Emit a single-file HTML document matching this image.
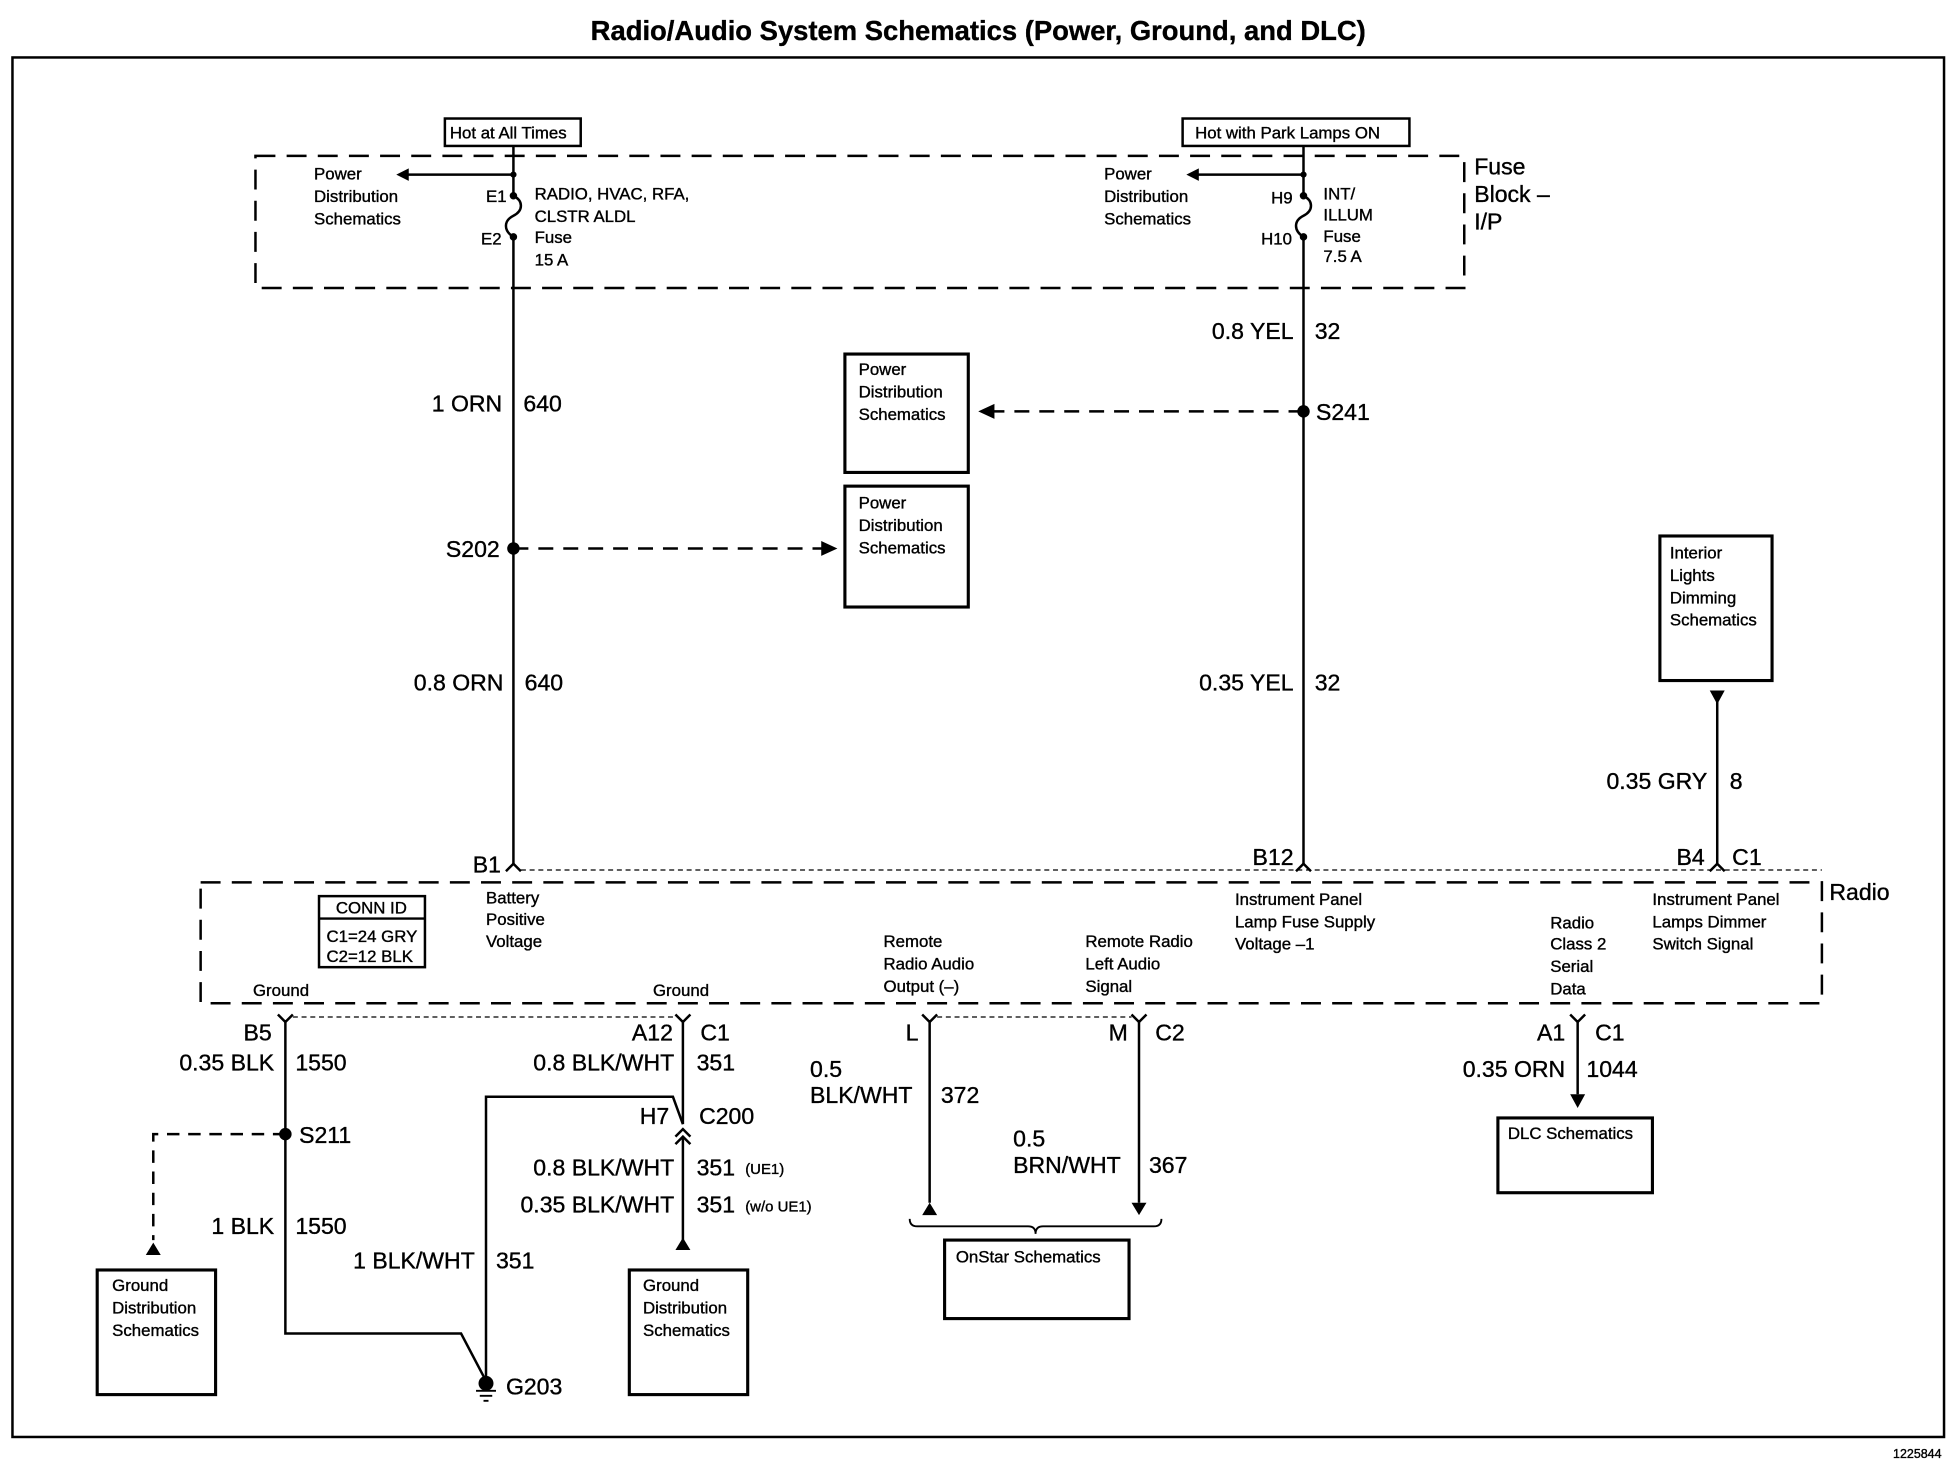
<!DOCTYPE html>
<html><head><meta charset="utf-8"><style>
html,body{margin:0;padding:0;background:#fff;}
svg{display:block;}
text{font-family:"Liberation Sans",Arial,sans-serif;fill:#000;stroke:#000;stroke-width:0.3px;}
.s{font-size:13.5px;}
.b{font-size:18.5px;}
</style></head><body>
<svg width="1954" height="1472" viewBox="0 0 1568 1181" xmlns="http://www.w3.org/2000/svg">
<g fill="none" stroke="#000" stroke-width="2">
<rect x="10" y="46" width="1550" height="1107"/>
<rect x="205" y="125" width="970" height="106" stroke-dasharray="16,9"/>
<rect x="161" y="708" width="1301" height="97" stroke-dasharray="16,9"/>
<rect x="357" y="95" width="109" height="22"/>
<rect x="949" y="95" width="182" height="22"/>
<rect x="678" y="284" width="99" height="95" stroke-width="2.5"/>
<rect x="678" y="390" width="99" height="97" stroke-width="2.5"/>
<rect x="1332" y="430" width="90" height="116" stroke-width="2.5"/>
<rect x="256" y="719" width="85" height="57"/>
<line x1="256" y1="737" x2="341" y2="737"/>
<rect x="78" y="1019" width="95" height="100" stroke-width="2.5"/>
<rect x="505" y="1019" width="95" height="100" stroke-width="2.5"/>
<rect x="758" y="995" width="148" height="63" stroke-width="2.5"/>
<rect x="1202" y="897" width="124" height="60" stroke-width="2.5"/>
<path d="M412 117 V157 M412 190 V693"/>
<path d="M412 157 c8 4 8 12 0 16 c-8 4 -8 12 0 17"/>
<path d="M412 140 H325"/>
<path d="M1046 117 V157 M1046 190 V693"/>
<path d="M1046 157 c8 4 8 12 0 16 c-8 4 -8 12 0 17"/>
<path d="M1046 140 H960"/>
<path d="M1046 330 H795" stroke-dasharray="12,8"/>
<path d="M412 440 H660" stroke-dasharray="12,8"/>
<path d="M1378 562 V693"/>
<path d="M406 699 L412 693 L418 699 M1040 699 L1046 693 L1052 699 M1372 699 L1378 693 L1384 699"/>
<path d="M418 698 H1462" stroke-width="1" stroke-dasharray="4,3"/>
<path d="M223 814 L229 820 L235 814 M542 814 L548 820 L554 814 M740 814 L746 820 L752 814 M908 814 L914 820 L920 814 M1260 814 L1266 820 L1272 814"/>
<path d="M235 816 H542 M752 816 H908" stroke-width="1" stroke-dasharray="4,3"/>
<path d="M229 820 V1070 H370 L390 1108"/>
<path d="M548 820 V902"/>
<path d="M390 1108 V880 H540 L548 902"/>
<path d="M542 912 L548 906 L554 912 M542 918 L548 912 L554 918"/>
<path d="M548 912 V995"/>
<path d="M229 910 H123 V995" stroke-dasharray="10,7"/>
<path d="M746 820 V965 M914 820 V965 M1266 820 V878"/>
<path d="M730 978 q0 6 6 6 H825 q6 0 6 6 q0 -6 6 -6 H926 q6 0 6 -6" stroke-width="1.5"/>
<path d="M382 1116 H398 M385 1120 H395 M388 1124 H392" stroke-width="1.5"/>
</g>
<g fill="#000">
<circle cx="412" cy="140" r="2.5"/><circle cx="412" cy="157" r="3"/><circle cx="412" cy="190" r="3"/>
<circle cx="1046" cy="140" r="2.5"/><circle cx="1046" cy="157" r="3"/><circle cx="1046" cy="190" r="3"/>
<circle cx="1046" cy="330" r="5"/><circle cx="412" cy="440" r="5"/>
<circle cx="229" cy="910" r="5"/><circle cx="390" cy="1110" r="6"/>
<path d="M318 140 l10 -5 v10z M952 140 l10 -5 v10z"/>
<path d="M785 330 l13 -6 v12z M672 440 l-13 -6 v12z"/>
<path d="M1378 565 l-6 -11 h12z"/>
<path d="M123 997 l-6 10 h12z M548 993 l-6 10 h12z M746 965 l-6 10 h12z M914 975 l-6 -10 h12z M1266 889 l-6 -11 h12z"/>
</g>
<text x="785" y="32" text-anchor="middle" style="font-size:22px;font-weight:bold">Radio/Audio System Schematics (Power, Ground, and DLC)</text>
<text x="1558" y="1170" text-anchor="end" style="font-size:10px">1225844</text>
<text x="361" y="111" class="s">Hot at All Times</text>
<text x="959" y="111" class="s">Hot with Park Lamps ON</text>
<text x="1183" y="140" class="b">Fuse</text><text x="1183" y="162" class="b">Block –</text><text x="1183" y="184" class="b">I/P</text>
<g class="s">
<text x="252" y="144">Power</text><text x="252" y="162">Distribution</text><text x="252" y="180">Schematics</text>
<text x="390" y="162">E1</text><text x="386" y="196">E2</text>
<text x="429" y="160">RADIO, HVAC, RFA,</text><text x="429" y="178">CLSTR ALDL</text><text x="429" y="195">Fuse</text><text x="429" y="213">15 A</text>
<text x="886" y="144">Power</text><text x="886" y="162">Distribution</text><text x="886" y="180">Schematics</text>
<text x="1020" y="163">H9</text><text x="1012" y="196">H10</text>
<text x="1062" y="160">INT/</text><text x="1062" y="177">ILLUM</text><text x="1062" y="194">Fuse</text><text x="1062" y="210">7.5 A</text>
<text x="689" y="301">Power</text><text x="689" y="319">Distribution</text><text x="689" y="337">Schematics</text>
<text x="689" y="408">Power</text><text x="689" y="426">Distribution</text><text x="689" y="444">Schematics</text>
<text x="1340" y="448">Interior</text><text x="1340" y="466">Lights</text><text x="1340" y="484">Dimming</text><text x="1340" y="502">Schematics</text>
<text x="298" y="733" text-anchor="middle">CONN ID</text><text x="262" y="756">C1=24 GRY</text><text x="262" y="772">C2=12 BLK</text>
<text x="390" y="725">Battery</text><text x="390" y="742">Positive</text><text x="390" y="760">Voltage</text>
<text x="991" y="726">Instrument Panel</text><text x="991" y="744">Lamp Fuse Supply</text><text x="991" y="762">Voltage –1</text>
<text x="1326" y="726">Instrument Panel</text><text x="1326" y="744">Lamps Dimmer</text><text x="1326" y="762">Switch Signal</text>
<text x="709" y="760">Remote</text><text x="709" y="778">Radio Audio</text><text x="709" y="796">Output (–)</text>
<text x="871" y="760">Remote Radio</text><text x="871" y="778">Left Audio</text><text x="871" y="796">Signal</text>
<text x="1244" y="745">Radio</text><text x="1244" y="762">Class 2</text><text x="1244" y="780">Serial</text><text x="1244" y="798">Data</text>
<text x="203" y="799">Ground</text><text x="524" y="799">Ground</text>
<text x="90" y="1036">Ground</text><text x="90" y="1054">Distribution</text><text x="90" y="1072">Schematics</text>
<text x="516" y="1036">Ground</text><text x="516" y="1054">Distribution</text><text x="516" y="1072">Schematics</text>
<text x="767" y="1013">OnStar Schematics</text>
<text x="1210" y="914">DLC Schematics</text>
<text x="598" y="942" style="font-size:12px">(UE1)</text><text x="598" y="972" style="font-size:12px">(w/o UE1)</text>
</g>
<text x="1468" y="722" class="b">Radio</text>
<g class="b">
<text x="403" y="330" text-anchor="end">1 ORN</text><text x="420" y="330">640</text>
<text x="1038" y="272" text-anchor="end">0.8 YEL</text><text x="1055" y="272">32</text>
<text x="1056" y="337">S241</text>
<text x="401" y="447" text-anchor="end">S202</text>
<text x="404" y="554" text-anchor="end">0.8 ORN</text><text x="421" y="554">640</text>
<text x="1038" y="554" text-anchor="end">0.35 YEL</text><text x="1055" y="554">32</text>
<text x="1370" y="633" text-anchor="end">0.35 GRY</text><text x="1388" y="633">8</text>
<text x="402" y="700" text-anchor="end">B1</text>
<text x="1038" y="694" text-anchor="end">B12</text>
<text x="1368" y="694" text-anchor="end">B4</text><text x="1390" y="694">C1</text>
<text x="218" y="835" text-anchor="end">B5</text>
<text x="220" y="859" text-anchor="end">0.35 BLK</text><text x="237" y="859">1550</text>
<text x="540" y="835" text-anchor="end">A12</text><text x="562" y="835">C1</text>
<text x="541" y="859" text-anchor="end">0.8 BLK/WHT</text><text x="559" y="859">351</text>
<text x="537" y="902" text-anchor="end">H7</text><text x="561" y="902">C200</text>
<text x="240" y="917">S211</text>
<text x="541" y="943" text-anchor="end">0.8 BLK/WHT</text><text x="559" y="943">351</text>
<text x="541" y="973" text-anchor="end">0.35 BLK/WHT</text><text x="559" y="973">351</text>
<text x="220" y="990" text-anchor="end">1 BLK</text><text x="237" y="990">1550</text>
<text x="381" y="1018" text-anchor="end">1 BLK/WHT</text><text x="398" y="1018">351</text>
<text x="406" y="1119">G203</text>
<text x="737" y="835" text-anchor="end">L</text>
<text x="905" y="835" text-anchor="end">M</text><text x="927" y="835">C2</text>
<text x="650" y="864">0.5</text><text x="650" y="885">BLK/WHT</text><text x="755" y="885">372</text>
<text x="813" y="920">0.5</text><text x="813" y="941">BRN/WHT</text><text x="922" y="941">367</text>
<text x="1256" y="835" text-anchor="end">A1</text><text x="1280" y="835">C1</text>
<text x="1256" y="864" text-anchor="end">0.35 ORN</text><text x="1273" y="864">1044</text>
</g>
</svg>
</body></html>
